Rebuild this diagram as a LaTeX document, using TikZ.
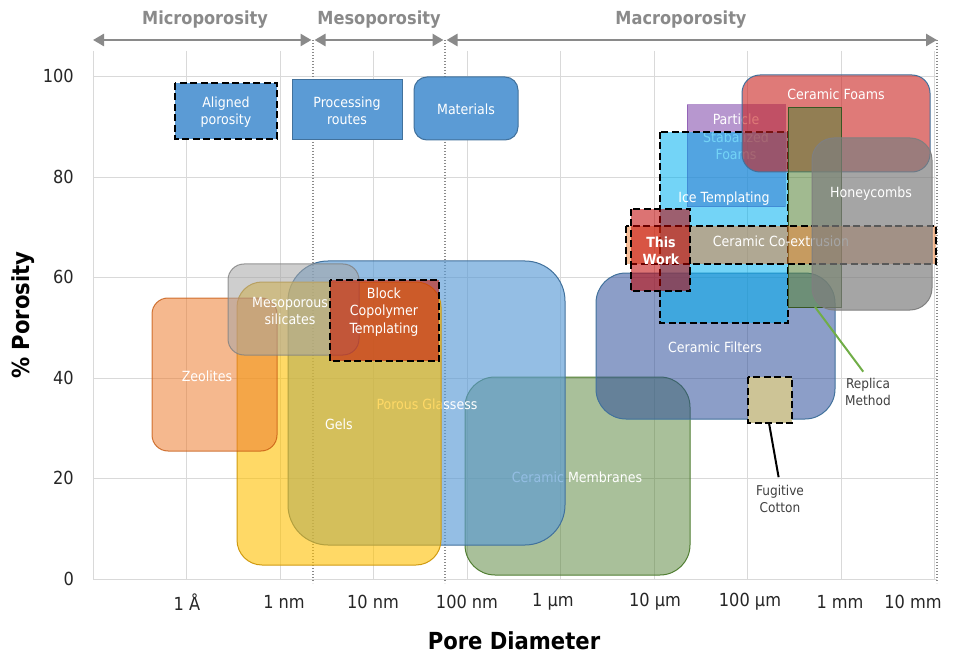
\documentclass[tikz,border=0pt]{standalone}
\usepackage{fontspec}
\setmainfont{DejaVu Sans Condensed}
\usetikzlibrary{arrows.meta,positioning}
\definecolor{gridgray}{HTML}{D9D9D9}
\definecolor{zonegray}{HTML}{8A8A8A}
\definecolor{tickgray}{HTML}{262626}
\definecolor{notegray}{HTML}{404040}
\definecolor{boxblue}{HTML}{5B9BD5}
\definecolor{blueline}{HTML}{41719C}
\definecolor{zeoorange}{HTML}{ED7D31}
\definecolor{zeoline}{HTML}{C55A11}
\definecolor{silgray}{HTML}{A5A5A5}
\definecolor{gelyellow}{HTML}{FFC000}
\definecolor{gelline}{HTML}{D09A10}
\definecolor{memgreen}{HTML}{548235}
\definecolor{memline}{HTML}{507E32}
\definecolor{filterblue}{HTML}{2E4F9A}
\definecolor{foamred}{HTML}{C9211E}
\definecolor{partpurple}{HTML}{7030A0}
\definecolor{icecyan}{HTML}{00B0F0}
\definecolor{repgreen}{HTML}{548235}
\definecolor{repline}{HTML}{385723}
\definecolor{honeygray}{HTML}{7F7F7F}
\definecolor{workred}{HTML}{C00000}
\definecolor{blockred}{HTML}{C8200C}
\definecolor{cottontan}{HTML}{CDC496}
\definecolor{leadgreen}{HTML}{70AD47}
\begin{document}
\begin{tikzpicture}[x=1pt,y=-1pt,
    gridline/.style={draw=gridgray,line width=0.8pt},
    zoneline/.style={draw=zonegray,line width=1.4pt,dash pattern=on 1.2pt off 1.8pt},
    zonearrow/.style={draw=zonegray,line width=2.6pt,{Triangle[length=11pt,width=12pt]}-{Triangle[length=11pt,width=12pt]}},
    dashbox/.style={draw=black,line width=2.7pt,dash pattern=on 7pt off 3.5pt},
    region/.style={line width=1pt},
    lbl/.style={text=white,font=\fontsize{14}{17.5}\selectfont,align=center,inner sep=0pt},
    note/.style={text=notegray,font=\fontsize{13.5}{17}\selectfont,align=center,inner sep=0pt},
    tick/.style={text=tickgray,font=\fontsize{18}{20}\selectfont,inner sep=0pt},
    zonelbl/.style={text=zonegray,font=\bfseries\fontsize{18}{20}\selectfont,inner sep=0pt},
    axislbl/.style={font=\bfseries\fontsize{23.5}{25}\selectfont,inner sep=0pt},
    leader/.style={line width=2pt,shorten >=8pt}]
  \useasboundingbox (0,0) rectangle (956,655);

  % grid
  \foreach \x in {0,...,9}
    \draw[gridline] (93+93.5*\x,51) -- (93+93.5*\x,579);
  \foreach \y in {76,177,277,378,478,579}
    \draw[gridline] (93,\y) -- (937,\y);
  \foreach \x in {313,445,937}
    \draw[zoneline] (\x,40) -- (\x,583);

  % porosity ranges
  \coordinate (b0) at (93,40);
  \coordinate (b1) at (313,40);
  \coordinate (b2) at (445,40);
  \coordinate (b3) at (937,40);
  \draw[zonearrow] (b0) -- ([xshift=-1.5pt]b1);
  \draw[zonearrow] ([xshift=1.5pt]b1) -- ([xshift=-1.5pt]b2);
  \draw[zonearrow] ([xshift=1.5pt]b2) -- (b3);
  \node[zonelbl] (micro) at (205,20) {Microporosity};
  \node[zonelbl] (meso) at (379,20) {Mesoporosity};
  \node[zonelbl] (macro) at (681,20) {Macroporosity};

  % materials
  \path[region,fill=memgreen,fill opacity=0.5,draw=memline,rounded corners=30pt] (465,377) rectangle (690,575);
  \node[lbl] (membranes) at (577,477) {Ceramic Membranes};
  \path[region,fill=boxblue,fill opacity=0.65,draw=blueline,rounded corners=40pt] (288,261) rectangle (565,545);
  \node[lbl] (glasses) at (427,404) {Porous Glassess};
  \path[region,fill=gelyellow,fill opacity=0.6,draw=gelline,rounded corners=25pt] (237,282) rectangle (441,565);
  \node[lbl] (gels) at (339,424) {Gels};
  \path[region,fill=zeoorange,fill opacity=0.55,draw=zeoline,draw opacity=0.8,rounded corners=16pt] (152,298) rectangle (277,451);
  \node[lbl] (zeolites) at (207,376) {Zeolites};
  \path[region,fill=silgray,fill opacity=0.55,draw=honeygray,draw opacity=0.8,rounded corners=16pt] (228,264) rectangle (359,355);
  \node[lbl] (silicates) at (290,311) {Mesoporous\\silicates};

  % processing routes
  \path[dashbox,fill=blockred,fill opacity=0.62] (330,280) rectangle (439,361);
  \node[lbl] (block) at (384,312) {Block\\Copolymer\\Templating};
  \path[region,fill=filterblue,fill opacity=0.55,draw=blueline,rounded corners=30pt] (596,273) rectangle (835,419);
  \node[lbl] (filters) at (715,347) {Ceramic Filters};
  \path[region,fill=partpurple,fill opacity=0.5,draw=partpurple,draw opacity=0.5] (687,105) rectangle (785,207);
  \node[lbl] (particle) at (736,137) {Particle\\Stabalized\\Foams};
  \path[dashbox,fill=icecyan,fill opacity=0.55] (660,132) rectangle (788,323);
  \node[lbl] (ice) at (724,199) {Ice Templating};
  \path[region,fill=foamred,fill opacity=0.6,draw=blueline,rounded corners=18pt] (742,75) rectangle (930,172);
  \node[lbl] (foams) at (836,94) {Ceramic Foams};
  \path[region,fill=repgreen,fill opacity=0.55,draw=repline] (788,108) rectangle (841,307);
  \coordinate (replica-foot) at (815,307);
  \path[dashbox,fill=zeoorange,fill opacity=0.5] (626,226) rectangle (936,264);
  \node[lbl] (coex) at (781,241) {Ceramic Co-extrusion};
  \path[region,fill=honeygray,fill opacity=0.7,draw=honeygray,rounded corners=22pt] (812,138) rectangle (932,310);
  \node[lbl] (honey) at (871,194) {Honeycombs};
  \path[dashbox,fill=workred,fill opacity=0.55] (631,209) rectangle (690,291);
  \node[lbl,font=\bfseries\fontsize{14}{17.5}\selectfont] (work) at (661,251) {This\\Work};
  \path[dashbox,fill=cottontan] (748,377) rectangle (792,423);
  \coordinate (cotton-foot) at (769,423);

  % call-outs
  \node[note] (replica) at (868,392) {Replica\\Method};
  \node[note] (fugitive) at (780,499) {Fugitive\\Cotton};
  \draw[leader,draw=leadgreen] (replica-foot) -- (replica.north);
  \draw[leader,draw=black] (cotton-foot) -- (fugitive.north);

  % key
  \path[dashbox,fill=boxblue] (175,83) rectangle (277,139);
  \node[lbl] (aligned) at (226,112) {Aligned\\porosity};
  \path[region,fill=boxblue,draw=blueline] (292,80) rectangle (402,140);
  \node[lbl] (routes) at (347,111) {Processing\\routes};
  \path[region,fill=boxblue,draw=blueline,rounded corners=13pt] (414,77) rectangle (518,140);
  \node[lbl] (mats) at (466,109) {Materials};

  % axes
  \foreach \v/\y in {0/579,20/478,40/378,60/277,80/177,100/76}
    \node[tick,anchor=east] (y\v) at (74,\y) {\v};
  \foreach \t/\x [count=\i] in {1 Å/187,1 nm/284,10 nm/373,100 nm/467,1 µm/553,10 µm/655,100 µm/750,1 mm/840,10 mm/913}
    \node[tick] (x\i) at (\x,602) {\t};
  \node[axislbl,rotate=90] (ylab) at (23,315) {\% Porosity};
  \node[axislbl] (xlab) at (514,641) {Pore Diameter};
\end{tikzpicture}
\end{document}
